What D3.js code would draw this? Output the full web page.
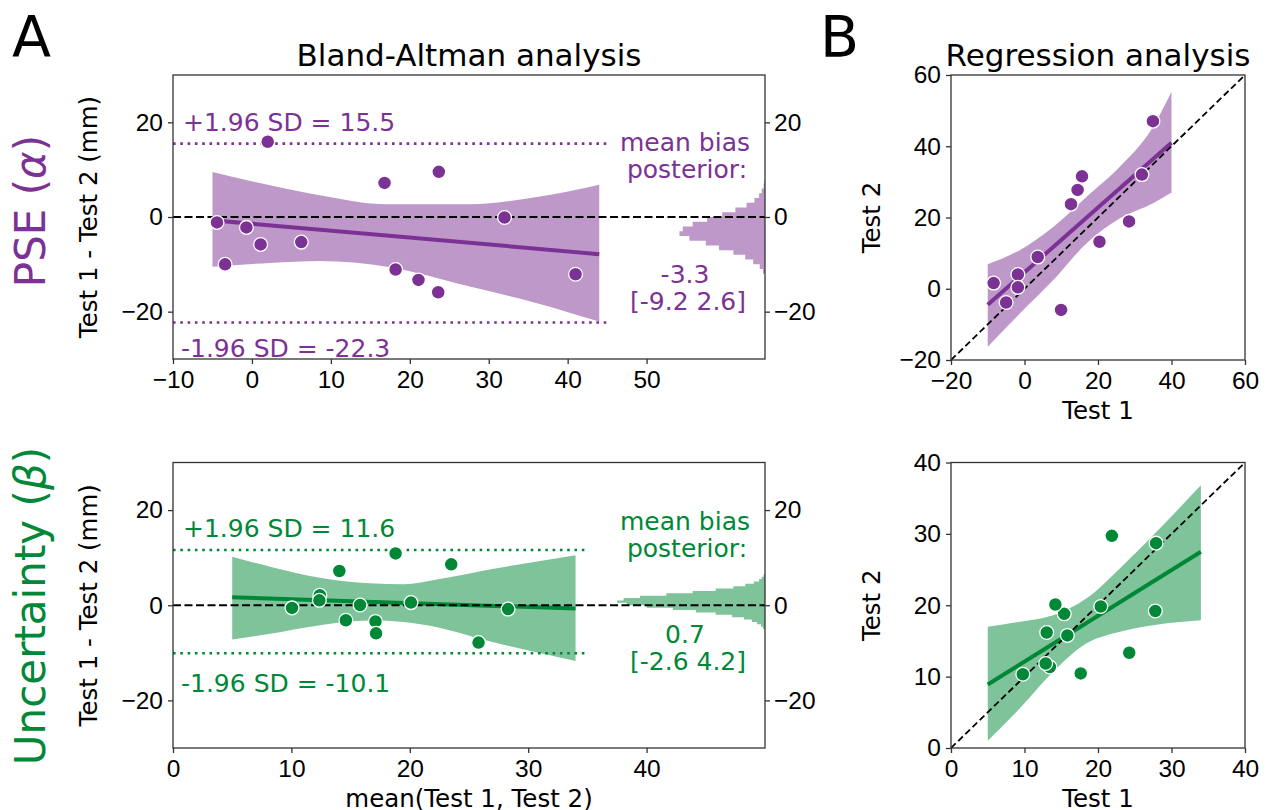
<!DOCTYPE html>
<html>
<head>
<meta charset="utf-8">
<script src="https://cdn.jsdelivr.net/npm/d3@7.9.0/dist/d3.min.js"></script>
<style>
  body { margin: 0; background: #fff; }
  svg { font-family: "DejaVu Sans", sans-serif; }
</style>
</head>
<body>
<svg id="fig" width="1270" height="810"></svg>
<script>
// ---- data ----
// PSE: test 1 / test 2 per participant
const pseTest1 = [-8.4, -5.0, -1.8, -1.8, 3.6, 9.95, 12.65, 14.45, 15.65, 20.4, 28.45, 31.95, 34.95];
const pseTest2 = [1.6, -3.85, 4.0, 0.4, 8.9, -5.95, 23.75, 27.75, 31.55, 13.2, 18.9, 32.05, 47.05];
// Uncertainty: test 1 / test 2
const uncTest1 = [9.77, 13.45, 12.88, 17.65, 13.02, 15.83, 15.4, 14.2, 24.25, 20.38, 27.8, 21.88, 27.9];
const uncTest2 = [10.33, 11.35, 11.84, 10.45, 16.18, 15.77, 18.8, 20.1, 13.35, 19.82, 19.2, 29.73, 28.7];

// Bland-Altman trend + credible band
const pseBaX = [-5, 2.3, 8.6, 17.1, 27.6, 36.1, 44];
const pseBaHi = [9.5, 6.7, 4.6, 2.7, 2.7, 4.2, 6.8];
const pseBaLo = [-10.5, -9.7, -9.3, -10.5, -14.7, -18.2, -22.1];
const pseBaFitX = [-5, 44];
const pseBaFitY = [-0.7, -7.85];

const uncBaX = [5, 8.2, 12.4, 16.6, 19.5, 22.3, 26.5, 34];
const uncBaHi = [10.2, 8.1, 5.8, 4.6, 4.4, 5.4, 7.4, 10.5];
const uncBaLo = [-7.2, -6.0, -4.2, -3.2, -3.5, -4.6, -7.4, -11.7];
const uncBaFitX = [5, 34];
const uncBaFitY = [1.7, -0.7];

// limits of agreement, mean bias and its interval
const pseLoa = [15.5, -22.3];
const uncLoa = [11.6, -10.1];
const pseBias = [-3.3, -9.2, 2.6];
const uncBias = [0.7, -2.6, 4.2];

// posterior histograms of the mean bias (density)
const pseHistEdges = [-12, -11, -10, -9, -8, -7, -6, -5, -4, -3, -2, -1, 0, 1, 2, 3, 4, 5, 6, 7, 8];
const pseHistDens = [0.003, 0.008, 0.018, 0.03, 0.048, 0.07, 0.09, 0.115, 0.13, 0.125, 0.11, 0.088, 0.065, 0.045, 0.028, 0.016, 0.009, 0.005, 0.002, 0.001];
const uncHistEdges = [-5, -4.5, -4, -3.5, -3, -2.5, -2, -1.5, -1, -0.5, 0, 0.5, 1, 1.5, 2, 2.5, 3, 3.5, 4, 4.5, 5, 5.5, 6, 6.5];
const uncHistDens = [0.003, 0.006, 0.012, 0.02, 0.032, 0.05, 0.075, 0.105, 0.14, 0.18, 0.21, 0.225, 0.215, 0.19, 0.15, 0.11, 0.075, 0.048, 0.03, 0.017, 0.009, 0.005, 0.002];

// regression trend + band
const pseRegX = [-10, -1.2, 7.9, 16.9, 26, 35, 40];
const pseRegHi = [6.9, 10.9, 17.4, 25.8, 34.3, 45.5, 55.3];
const pseRegLo = [-16.3, -6.9, 2.5, 12.8, 19.8, 24.0, 27.0];
const pseRegFitX = [-10, 40];
const pseRegFitY = [-4.5, 41];

const uncRegX = [5, 9.4, 13.9, 18.5, 23, 27.5, 34];
const uncRegHi = [17.0, 17.7, 18.6, 21.0, 25.2, 29.8, 36.8];
const uncRegLo = [1.0, 5.6, 10.7, 14.7, 16.3, 17.2, 17.9];
const uncRegFitX = [5, 34];
const uncRegFitY = [8.9, 27.5];

const purple = '#7b3294';
const green = '#008837';

const svg = d3.select('#fig');
const tickFont = '24.5px';
let clipId = 0;

function styleAxis(g) {
  g.select('.domain').remove();
  g.selectAll('.tick line').attr('stroke', '#333').attr('stroke-width', 1.3);
  g.selectAll('.tick text').attr('fill', '#000').style('font-size', tickFont);
}

function frame(g, x, y) {
  g.append('rect')
    .attr('x', x.range()[0]).attr('y', y.range()[1])
    .attr('width', x.range()[1] - x.range()[0])
    .attr('height', y.range()[0] - y.range()[1])
    .attr('fill', 'none').attr('stroke', '#333').attr('stroke-width', 1.3);
}

function clipFor(x, y) {
  const id = 'clip' + (clipId++);
  svg.append('clipPath').attr('id', id).append('rect')
    .attr('x', x.range()[0]).attr('y', y.range()[1])
    .attr('width', x.range()[1] - x.range()[0])
    .attr('height', y.range()[0] - y.range()[1]);
  return svg.append('g').attr('clip-path', `url(#${id})`);
}

function band(g, x, y, xs, lo, hi, color) {
  const area = d3.area()
    .x((d, i) => x(xs[i])).y0((d, i) => y(lo[i])).y1((d, i) => y(hi[i]))
    .curve(d3.curveMonotoneX);
  g.append('path').attr('d', area(xs)).attr('fill', color).attr('fill-opacity', 0.5);
}

function fitLine(g, x, y, fx, fy, color) {
  g.append('line')
    .attr('x1', x(fx[0])).attr('y1', y(fy[0]))
    .attr('x2', x(fx[1])).attr('y2', y(fy[1]))
    .attr('stroke', color).attr('stroke-width', 4);
}

function dots(g, x, y, xs, ys, color) {
  g.selectAll('circle.pt').data(xs).join('circle')
    .attr('class', 'pt')
    .attr('cx', d => x(d)).attr('cy', (d, i) => y(ys[i]))
    .attr('r', 6.9).attr('fill', color)
    .attr('stroke', '#fff').attr('stroke-width', 1.3);
}

// ---- Bland-Altman panel ----
function baPanel(p) {
  const x = d3.scaleLinear().domain(p.xDomain).range([173, 765]);
  const y = d3.scaleLinear().domain([-30, 30]).range([p.bottom, p.top]);
  const hx = d3.scaleLinear().domain([0, 0.9]).range([765, 173]);

  const means = p.t1.map((v, i) => (v + p.t2[i]) / 2);
  const diffs = p.t1.map((v, i) => v - p.t2[i]);

  const g = clipFor(x, y);
  band(g, x, y, p.bandX, p.bandLo, p.bandHi, p.color);
  fitLine(g, x, y, p.fitX, p.fitY, p.color);

  // posterior histogram on the right edge
  const hp = d3.path();
  hp.moveTo(hx(0), y(p.histEdges[0]));
  p.histDens.forEach((d, i) => {
    hp.lineTo(hx(d), y(p.histEdges[i]));
    hp.lineTo(hx(d), y(p.histEdges[i + 1]));
  });
  hp.lineTo(hx(0), y(p.histEdges[p.histEdges.length - 1]));
  hp.closePath();
  g.append('path').attr('d', hp.toString()).attr('fill', p.color).attr('fill-opacity', 0.5);

  // limits of agreement
  p.loa.forEach(v => {
    g.append('line')
      .attr('x1', x(p.xDomain[0])).attr('x2', x(p.loaEnd))
      .attr('y1', y(v)).attr('y2', y(v))
      .attr('stroke', p.color).attr('stroke-width', 2.6)
      .attr('stroke-dasharray', '2.6,4.7');
  });
  g.append('line')
    .attr('x1', x(p.xDomain[0])).attr('x2', x(p.xDomain[1]))
    .attr('y1', y(0)).attr('y2', y(0))
    .attr('stroke', '#000').attr('stroke-width', 2).attr('stroke-dasharray', '8,3.5');

  dots(g, x, y, means, diffs, p.color);

  // text
  const t = svg.append('g').attr('fill', p.color).style('font-size', '25px');
  t.append('text').attr('x', 183).attr('y', y(p.loa[0]) - 13)
    .text(`+1.96 SD = ${p.loa[0]}`);
  t.append('text').attr('x', 181).attr('y', y(p.loa[1]) + p.loOff)
    .text(`-1.96 SD = ${p.loa[1]}`);
  t.append('text').attr('text-anchor', 'middle').attr('x', 685).attr('y', y(p.capY))
    .text('mean bias');
  t.append('text').attr('text-anchor', 'middle').attr('x', 687).attr('y', y(p.capY) + 27)
    .text('posterior:');
  t.append('text').attr('text-anchor', 'middle').attr('x', 685).attr('y', y(p.biasY))
    .text(`${p.bias[0]}`);
  t.append('text').attr('text-anchor', 'middle').attr('x', 688).attr('y', y(p.biasY) + 27)
    .text(`[${p.bias[1]} ${p.bias[2]}]`);

  // axes
  svg.append('g').attr('transform', `translate(0,${p.bottom})`)
    .call(d3.axisBottom(x).tickValues(p.xTicks).tickSize(5).tickPadding(6.5)).call(styleAxis);
  svg.append('g').attr('transform', 'translate(173,0)')
    .call(d3.axisLeft(y).tickValues([-20, 0, 20]).tickSize(5).tickPadding(5)).call(styleAxis);
  svg.append('g').attr('transform', 'translate(765,0)')
    .call(d3.axisRight(y).tickValues([-20, 0, 20]).tickSize(5).tickPadding(4)).call(styleAxis);
  frame(svg, x, y);

  svg.append('text')
    .attr('transform', `translate(97,${(p.top + p.bottom) / 2}) rotate(-90)`)
    .attr('text-anchor', 'middle').style('font-size', '24.5px')
    .text('Test 1 - Test 2 (mm)');
}

// ---- regression panel ----
function regPanel(p) {
  const x = d3.scaleLinear().domain(p.domain).range([951, 1245]);
  const y = d3.scaleLinear().domain(p.domain).range([p.bottom, p.top]);
  const g = clipFor(x, y);
  band(g, x, y, p.bandX, p.bandLo, p.bandHi, p.color);
  fitLine(g, x, y, p.fitX, p.fitY, p.color);
  g.append('line')
    .attr('x1', x(p.domain[0])).attr('y1', y(p.domain[0]))
    .attr('x2', x(p.domain[1])).attr('y2', y(p.domain[1]))
    .attr('stroke', '#000').attr('stroke-width', 1.8).attr('stroke-dasharray', '6.5,3.5');
  dots(g, x, y, p.t1, p.t2, p.color);

  svg.append('g').attr('transform', `translate(0,${p.bottom})`)
    .call(d3.axisBottom(x).tickValues(p.ticks).tickSize(5).tickPadding(6.5)).call(styleAxis);
  svg.append('g').attr('transform', 'translate(951,0)')
    .call(d3.axisLeft(y).tickValues(p.ticks).tickSize(5).tickPadding(5)).call(styleAxis);
  frame(svg, x, y);

  svg.append('text')
    .attr('transform', `translate(880,${(p.top + p.bottom) / 2}) rotate(-90)`)
    .attr('text-anchor', 'middle').style('font-size', '24.5px').text('Test 2');
  svg.append('text').attr('x', 1098).attr('y', p.bottom + 59)
    .attr('text-anchor', 'middle').style('font-size', '24.5px').text('Test 1');
}

baPanel({
  top: 75, bottom: 359, xDomain: [-10, 65], xTicks: [-10, 0, 10, 20, 30, 40, 50],
  color: purple, t1: pseTest1, t2: pseTest2,
  bandX: pseBaX, bandLo: pseBaLo, bandHi: pseBaHi, fitX: pseBaFitX, fitY: pseBaFitY,
  loa: pseLoa, loaEnd: 45, loOff: 34, bias: pseBias, capY: 14, biasY: -14,
  histEdges: pseHistEdges, histDens: pseHistDens
});
baPanel({
  top: 462.5, bottom: 748, xDomain: [0, 50], xTicks: [0, 10, 20, 30, 40],
  color: green, t1: uncTest1, t2: uncTest2,
  bandX: uncBaX, bandLo: uncBaLo, bandHi: uncBaHi, fitX: uncBaFitX, fitY: uncBaFitY,
  loa: uncLoa, loaEnd: 35, loOff: 39, bias: uncBias, capY: 15.8, biasY: -8,
  histEdges: uncHistEdges, histDens: uncHistDens
});
regPanel({
  top: 75, bottom: 360, domain: [-20, 60], ticks: [-20, 0, 20, 40, 60],
  color: purple, t1: pseTest1, t2: pseTest2,
  bandX: pseRegX, bandLo: pseRegLo, bandHi: pseRegHi, fitX: pseRegFitX, fitY: pseRegFitY
});
regPanel({
  top: 462.5, bottom: 748, domain: [0, 40], ticks: [0, 10, 20, 30, 40],
  color: green, t1: uncTest1, t2: uncTest2,
  bandX: uncRegX, bandLo: uncRegLo, bandHi: uncRegHi, fitX: uncRegFitX, fitY: uncRegFitY
});

// titles and labels
svg.append('text').attr('x', 469).attr('y', 66).attr('text-anchor', 'middle')
  .style('font-size', '31px').text('Bland-Altman analysis');
svg.append('text').attr('x', 1098).attr('y', 66).attr('text-anchor', 'middle')
  .style('font-size', '31px').text('Regression analysis');
svg.append('text').attr('x', 469).attr('y', 807).attr('text-anchor', 'middle')
  .style('font-size', '24.5px').text('mean(Test 1, Test 2)');
svg.append('text').attr('x', 12).attr('y', 57).style('font-size', '57px').text('A');
svg.append('text').attr('x', 820).attr('y', 57).style('font-size', '57px').text('B');

const rowLab = (txt, sym, cy, color) => {
  const t = svg.append('text')
    .attr('transform', `translate(45,${cy}) rotate(-90)`)
    .attr('text-anchor', 'middle').attr('fill', color).style('font-size', '42px');
  t.append('tspan').text(txt + ' (');
  t.append('tspan').style('font-style', 'italic').text(sym);
  t.append('tspan').text(')');
};
rowLab('PSE', 'α', 211, purple);
rowLab('Uncertainty', 'β', 606, green);
</script>
</body>
</html>
